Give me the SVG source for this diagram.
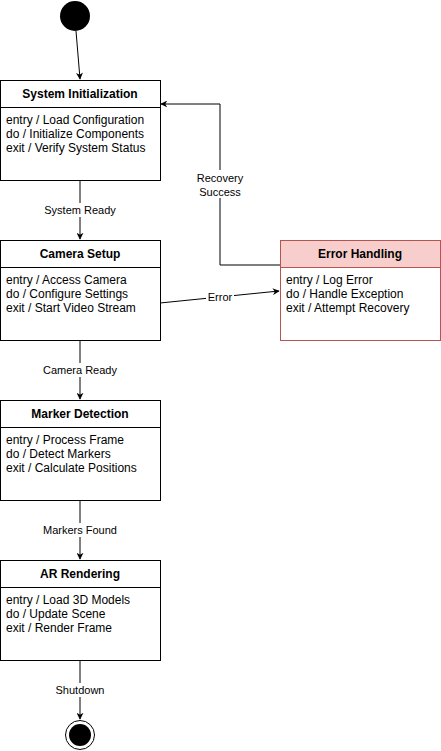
<svg xmlns="http://www.w3.org/2000/svg" width="441" height="751" viewBox="0 0 441 751">
<style>
.box{fill:#fff;stroke:#000;stroke-width:1}
.err{fill:#fff;stroke:#b85450;stroke-width:1}
.errh{fill:#f8cecc;stroke:#b85450;stroke-width:1}
.t{font-family:"Liberation Sans",Arial,sans-serif;font-size:12px;fill:#000}
.h{font-weight:bold;text-anchor:middle}
.lbl{font-family:"Liberation Sans",Arial,sans-serif;font-size:11px;fill:#000;text-anchor:middle}
.c{fill:none;stroke:#000;stroke-width:1}
</style>
<defs>
<marker id="a" viewBox="0 0 10 10" refX="9" refY="5" markerWidth="7" markerHeight="7" markerUnits="userSpaceOnUse" orient="auto">
<path d="M0,0 L10,5 L0,10 L3,5 Z" fill="#000"/>
</marker>
</defs>
<rect width="441" height="751" fill="#fff"/>
<g id="connectors">
<path class="c" d="M76,31 L80,79" marker-end="url(#a)"/>
<path class="c" d="M80,180 L80,239" marker-end="url(#a)"/>
<path class="c" d="M80,340 L80,399" marker-end="url(#a)"/>
<path class="c" d="M80,500 L80,559" marker-end="url(#a)"/>
<path class="c" d="M80,660 L80,719" marker-end="url(#a)"/>
<path class="c" d="M160,303 L279,291" marker-end="url(#a)"/>
<path class="c" d="M280,265 L220,265 L220,104 L161,104" marker-end="url(#a)"/>
<rect x="40" y="203" width="80" height="14" fill="#fff"/>
<text class="lbl" x="80" y="214">System Ready</text>
<rect x="40" y="363" width="80" height="14" fill="#fff"/>
<text class="lbl" x="80" y="374">Camera Ready</text>
<rect x="40" y="523" width="80" height="14" fill="#fff"/>
<text class="lbl" x="80" y="534">Markers Found</text>
<rect x="50" y="683" width="60" height="14" fill="#fff"/>
<text class="lbl" x="80" y="694">Shutdown</text>
<rect x="206" y="290" width="28" height="13" fill="#fff"/>
<text class="lbl" x="220" y="301">Error</text>
<rect x="192" y="170" width="56" height="28" fill="#fff"/>
<text class="lbl" x="220" y="182">Recovery</text>
<text class="lbl" x="220" y="196">Success</text>
</g>
<g id="start"><circle cx="75" cy="16" r="15" fill="#000"/></g>
<g id="sysinit">
<rect class="box" x="0.5" y="80.5" width="160" height="100"/>
<line class="c" x1="0.5" y1="107.5" x2="160.5" y2="107.5"/>
<text class="t h" x="80" y="98">System Initialization</text>
<text class="t" x="6" y="124">entry / Load Configuration</text>
<text class="t" x="6" y="138">do / Initialize Components</text>
<text class="t" x="6" y="152">exit / Verify System Status</text>
</g>
<g id="camera">
<rect class="box" x="0.5" y="240.5" width="160" height="100"/>
<line class="c" x1="0.5" y1="267.5" x2="160.5" y2="267.5"/>
<text class="t h" x="80" y="258">Camera Setup</text>
<text class="t" x="6" y="284">entry / Access Camera</text>
<text class="t" x="6" y="298">do / Configure Settings</text>
<text class="t" x="6" y="312">exit / Start Video Stream</text>
</g>
<g id="marker">
<rect class="box" x="0.5" y="400.5" width="160" height="100"/>
<line class="c" x1="0.5" y1="427.5" x2="160.5" y2="427.5"/>
<text class="t h" x="80" y="418">Marker Detection</text>
<text class="t" x="6" y="444">entry / Process Frame</text>
<text class="t" x="6" y="458">do / Detect Markers</text>
<text class="t" x="6" y="472">exit / Calculate Positions</text>
</g>
<g id="ar">
<rect class="box" x="0.5" y="560.5" width="160" height="100"/>
<line class="c" x1="0.5" y1="587.5" x2="160.5" y2="587.5"/>
<text class="t h" x="80" y="578">AR Rendering</text>
<text class="t" x="6" y="604">entry / Load 3D Models</text>
<text class="t" x="6" y="618">do / Update Scene</text>
<text class="t" x="6" y="632">exit / Render Frame</text>
</g>
<g id="error">
<rect class="err" x="280.5" y="240.5" width="160" height="100"/>
<rect class="errh" x="280.5" y="240.5" width="160" height="27"/>
<text class="t h" x="360" y="258">Error Handling</text>
<text class="t" x="286" y="284">entry / Log Error</text>
<text class="t" x="286" y="298">do / Handle Exception</text>
<text class="t" x="286" y="312">exit / Attempt Recovery</text>
</g>
<g id="end">
<circle cx="80" cy="735" r="14.5" fill="#fff" stroke="#000" stroke-width="1"/>
<circle cx="80" cy="735" r="11" fill="#000"/>
</g>
</svg>
